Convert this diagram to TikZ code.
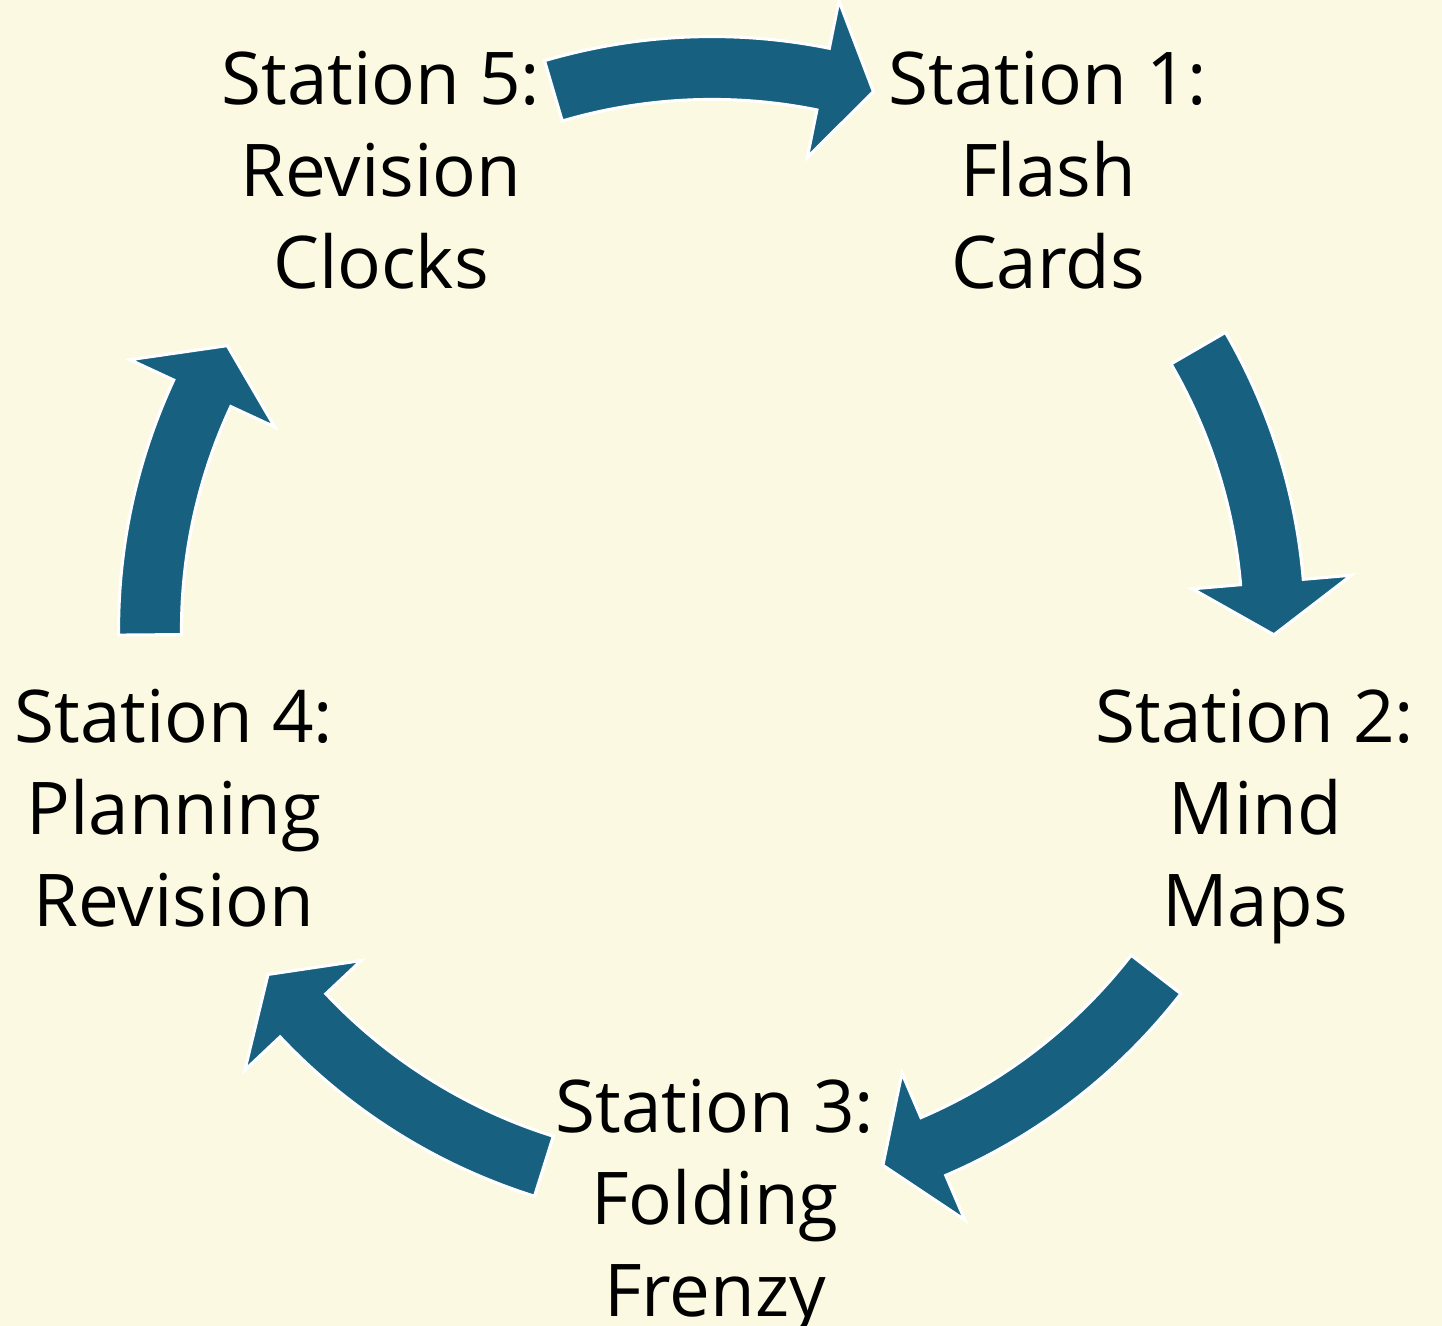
\documentclass[tikz,border=0pt]{standalone}
\usepackage{fontspec}
\setmainfont{Open Sans}
\definecolor{cream}{RGB}{251,249,225}
\definecolor{arrowblue}{RGB}{23,96,128}
\begin{document}
\begin{tikzpicture}[station/.style={inner sep=0pt,anchor=north,align=center,font=\fontsize{20.7}{26.2}\selectfont},
    cyclearrow/.style={fill=arrowblue,draw=white,line width=0.9pt,line join=miter}]
\useasboundingbox (0,0) rectangle (14.42,13.26);
\fill[cream] (0,0) rectangle (14.42,13.26);
% arrows round the circle: tail/head base/tip angles
\begin{scope}[shift={(7.12,6.96)}]
\foreach \t/\b/\p in {106.4/78.6/73.3,30.1/4.9/-0.5,-37.8/-66.8/-72.3,-107.4/-136.7/-142.2,180.5/155.1/149.6}
  \draw[cyclearrow] (\t:5.935) arc[start angle=\t,end angle=\b,radius=5.935]
    -- (\b:6.42) -- (\p:5.62) -- (\b:4.82) -- (\b:5.305)
    arc[start angle=\b,end angle=\t,radius=5.305] -- cycle;
\end{scope}
\node[station] (st1) at (10.48,12.76) {Station 1:\\Flash\\Cards};
\node[station] (st2) at (12.55,6.38) {Station 2:\\Mind\\Maps};
\node[station] (st3) at (7.15,2.48) {Station 3:\\Folding\\Frenzy};
\node[station] (st4) at (1.74,6.38) {Station 4:\\Planning\\Revision};
\node[station] (st5) at (3.81,12.76) {Station 5:\\Revision\\Clocks};
\end{tikzpicture}
\end{document}
